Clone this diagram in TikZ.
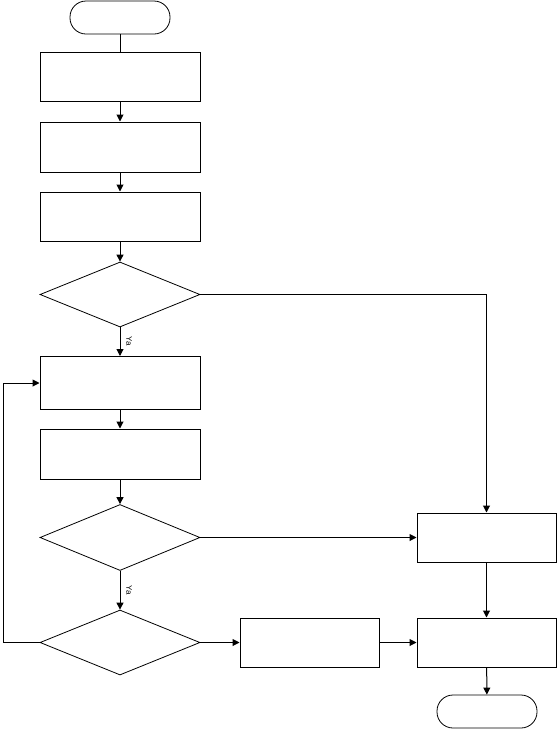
\documentclass[tikz,border=0pt]{standalone}
\usepackage{fontspec}
\setmainfont{Liberation Sans}
\usetikzlibrary{arrows.meta,shapes.geometric}
\begin{document}
\begin{tikzpicture}[x=1pt,y=-1pt,line width=1pt,
  box/.style={draw,rectangle,inner sep=0,minimum width=160pt,minimum height=49pt},
  rbox/.style={draw,rectangle,inner sep=0,minimum width=139pt,minimum height=49pt},
  term/.style={draw,rectangle,rounded corners=16pt,inner sep=0,minimum width=100pt,minimum height=33pt,line width=0.8pt},
  dec/.style={draw,diamond,inner sep=0,minimum width=160pt,minimum height=65pt,line width=0.8pt},
  arr/.style={-{Triangle[length=7pt,width=7pt]}},
  lbl/.style={font=\fontsize{8}{9}\selectfont,rotate=-90,inner sep=0}]
\useasboundingbox (0,0) rectangle (557,729);
\node[term] (start) at (120,17.5) {};
\node[box] (b1) at (120,76.5) {};
\node[box,minimum height=50pt] (b2) at (120,147) {};
\node[box] (b3) at (120,216.5) {};
\node[dec] (d1) at (120,294.5) {};
\node[box,minimum height=53pt] (b4) at (120,383) {};
\node[box,minimum height=50pt] (b5) at (120,454) {};
\node[dec,minimum height=66pt] (d2) at (120,537.5) {};
\node[dec] (d3) at (120,642.5) {};
\node[rbox] (m) at (309.5,642.5) {};
\node[rbox] (r1) at (486.5,537.5) {};
\node[rbox] (r2) at (486.5,642.5) {};
\node[term] (stop) at (487,711.5) {};
\coordinate (lp) at (3,642.5);
\node[lbl] (ya1) at (129,341) {Ya};
\node[lbl] (ya2) at (129,590) {Ya};
\draw (start) -- (b1);
\draw[arr] (b1) -- (b2);
\draw[arr] (b2) -- (b3);
\draw[arr] (b3) -- (d1);
\draw[arr] (d1) -- (b4);
\draw[arr] (b4) -- (b5);
\draw[arr] (b5) -- (d2);
\draw[arr] (d2) -- (d3);
\draw[arr] (d3) -- (m);
\draw[arr] (m) -- (r2);
\draw[arr] (d2) -- (r1);
\draw[arr] (r1) -- (r2);
\draw[arr] (r2) -- (stop);
\draw[arr] (d1.east) -| (r1.north);
\draw[arr] (d3.west) -- (lp) |- (b4.west);
\end{tikzpicture}
\end{document}
